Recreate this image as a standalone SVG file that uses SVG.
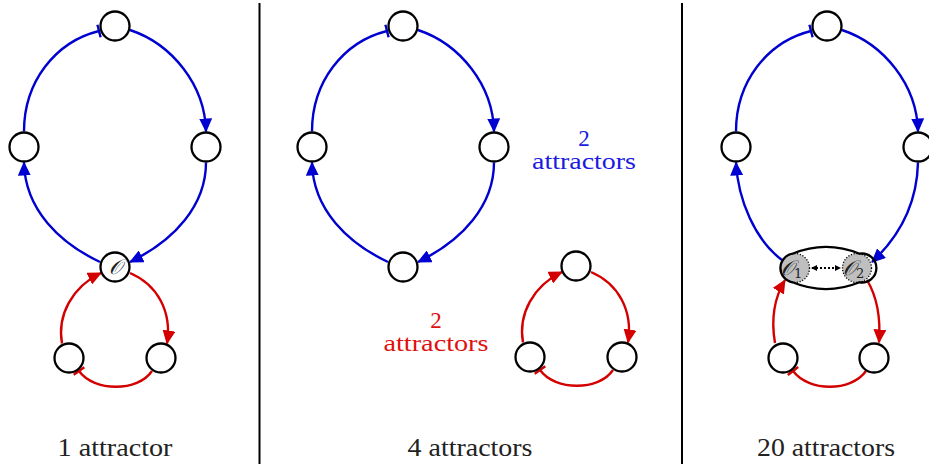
<svg xmlns="http://www.w3.org/2000/svg" width="929" height="466" viewBox="0 0 929 466">
<style>
.node{fill:#fff;stroke:#000;stroke-width:2.3}
.blue{fill:none;stroke:#0000d0;stroke-width:2.4}
.red{fill:none;stroke:#d40000;stroke-width:2.4}
.div{stroke:#000;stroke-width:2}
.lbl{font-size:25px;fill:#222;text-anchor:middle}
.sub{font-size:23px;text-anchor:middle}
.cal{font-style:italic;fill:#222}
</style>
<defs>
<marker id="ab" markerUnits="userSpaceOnUse" viewBox="0 0 14 13" markerWidth="14" markerHeight="13" refX="13" refY="6.5" orient="auto"><path d="M0,0 L14,6.5 L0,13 z" fill="#0000d0"/></marker>
<marker id="ar" markerUnits="userSpaceOnUse" viewBox="0 0 14 13" markerWidth="14" markerHeight="13" refX="13" refY="6.5" orient="auto"><path d="M0,0 L14,6.5 L0,13 z" fill="#d40000"/></marker>
<marker id="tb" markerUnits="userSpaceOnUse" viewBox="0 0 3 14" markerWidth="3" markerHeight="14" refX="1.5" refY="7" orient="auto"><rect x="0.3" y="0.5" width="2.4" height="13" fill="#0000d0"/></marker>
<marker id="tr" markerUnits="userSpaceOnUse" viewBox="0 0 3 14" markerWidth="3" markerHeight="14" refX="1.5" refY="7" orient="auto"><rect x="0.3" y="0.5" width="2.4" height="13" fill="#d40000"/></marker>
<marker id="ak" markerUnits="userSpaceOnUse" viewBox="0 0 6 6" markerWidth="6" markerHeight="6" refX="5" refY="3" orient="auto-start-reverse"><path d="M0,0 L6,3 L0,6 z" fill="#000"/></marker>
</defs>

<line class="div" x1="259.5" y1="3" x2="259.5" y2="464"/>
<line class="div" x1="682" y1="3" x2="682" y2="464"/>

<g id="connectors">
  <g id="p1-blue">
    <path class="blue" d="M24,131.5 C24,82 55,42 99,31" marker-end="url(#tb)"/>
    <path class="blue" d="M130,30 C172,44 205,85 206,131.5" marker-end="url(#ab)"/>
    <path class="blue" d="M206,162.5 C206,205 175,240 130,262" marker-end="url(#ab)"/>
    <path class="blue" d="M100,262 C60,243 25,210 24,162.5" marker-end="url(#ab)"/>
  </g>
  <g id="p1-red">
    <path class="red" d="M62,343.5 C57,315 72,287 101,273" marker-end="url(#ar)"/>
    <path class="red" d="M130,273 C158,285 172,312 167,343.5" marker-end="url(#ar)"/>
    <path class="red" d="M152,371 C138,392 94,392 79,371" marker-end="url(#tr)"/>
  </g>
  <g id="p2-blue" transform="translate(288,0)">
    <path class="blue" d="M24,131.5 C24,82 55,42 99,31" marker-end="url(#tb)"/>
    <path class="blue" d="M130,30 C172,44 205,85 206,131.5" marker-end="url(#ab)"/>
    <path class="blue" d="M206,162.5 C206,205 175,240 130,262" marker-end="url(#ab)"/>
    <path class="blue" d="M100,262 C60,243 25,210 24,162.5" marker-end="url(#ab)"/>
  </g>
  <g id="p2-red" transform="translate(461,-1)">
    <path class="red" d="M62,343.5 C57,315 72,287 101,273" marker-end="url(#ar)"/>
    <path class="red" d="M130,273 C158,285 172,312 167,343.5" marker-end="url(#ar)"/>
    <path class="red" d="M152,371 C138,392 94,392 79,371" marker-end="url(#tr)"/>
  </g>
  <g id="p3-blue">
    <path class="blue" d="M736,131.5 C736,82 767,42 811,31" marker-end="url(#tb)"/>
    <path class="blue" d="M842,30 C884,44 917,85 918,131.5" marker-end="url(#ab)"/>
    <path class="blue" d="M918,162.5 C917,202 900,236 872,262" marker-end="url(#ab)"/>
    <path class="blue" d="M782,260 C755,240 738,200 736,162.5" marker-end="url(#ab)"/>
  </g>
  <g id="p3-red">
    <path class="red" d="M775,343 C771,320 773,300 785,280" marker-end="url(#ar)"/>
    <path class="red" d="M867,280 C876,295 881,315 879,342.5" marker-end="url(#ar)"/>
    <path class="red" d="M866,371 C851,392 809,392 793,371" marker-end="url(#tr)"/>
  </g>
  <line x1="812" y1="268" x2="840" y2="268" stroke="#000" stroke-width="2" stroke-dasharray="2 2" marker-start="url(#ak)" marker-end="url(#ak)"/>
</g>

<g id="p1-top"><circle class="node" cx="115" cy="26" r="14.5"/></g>
<g id="p1-left"><circle class="node" cx="24" cy="147" r="14.5"/></g>
<g id="p1-right"><circle class="node" cx="206" cy="147" r="14.5"/></g>
<g id="p1-O"><circle class="node" cx="115" cy="267" r="14.5"/><text class="cal" x="115" y="274" font-size="21" text-anchor="middle" font-family="'DejaVu Serif', 'Liberation Serif', serif">𝒪</text></g>
<g id="p1-bl"><circle class="node" cx="69" cy="358" r="14.5"/></g>
<g id="p1-br"><circle class="node" cx="161" cy="358" r="14.5"/></g>

<g id="p2-top"><circle class="node" cx="403" cy="26" r="14.5"/></g>
<g id="p2-left"><circle class="node" cx="312" cy="147" r="14.5"/></g>
<g id="p2-right"><circle class="node" cx="494" cy="147" r="14.5"/></g>
<g id="p2-bottom"><circle class="node" cx="403" cy="267" r="14.5"/></g>
<g id="p2-rtop"><circle class="node" cx="576" cy="266" r="14.5"/></g>
<g id="p2-rbl"><circle class="node" cx="530" cy="357" r="14.5"/></g>
<g id="p2-rbr"><circle class="node" cx="622" cy="357" r="14.5"/></g>

<g id="p3-top"><circle class="node" cx="827" cy="26" r="14.5"/></g>
<g id="p3-left"><circle class="node" cx="736" cy="147" r="14.5"/></g>
<g id="p3-right"><circle class="node" cx="918" cy="147" r="14.5"/></g>
<g id="p3-O12">
  <circle cx="795" cy="268" r="14.5" fill="#bfbfbf" stroke="#000" stroke-width="1.3" stroke-dasharray="1.2 1.6"/>
  <circle cx="857" cy="268" r="14.5" fill="#bfbfbf" stroke="#000" stroke-width="1.3" stroke-dasharray="1.2 1.6"/>
  <path d="M792.5,253.7 Q826,240 859.5,253.7 A14.5,14.5 0 1 1 859.5,282.3 Q826,296 792.5,282.3 A14.5,14.5 0 0 1 792.5,253.7 Z" fill="none" stroke="#000" stroke-width="2.3"/>
  <text class="cal" x="781" y="275" font-size="21" font-family="'DejaVu Serif', 'Liberation Serif', serif">𝒪<tspan font-size="13" font-style="normal" dy="3">1</tspan></text>
  <text class="cal" x="843" y="275" font-size="21" font-family="'DejaVu Serif', 'Liberation Serif', serif">𝒪<tspan font-size="13" font-style="normal" dy="3">2</tspan></text>
</g>
<g id="p3-bl"><circle class="node" cx="783" cy="358" r="14.5"/></g>
<g id="p3-br"><circle class="node" cx="874" cy="358" r="14.5"/></g>

<g font-family="'Liberation Serif', 'Times New Roman', Times, serif">
<text class="sub" x="584" y="146" fill="#1a1ae0">2</text>
<text class="sub" x="584" y="169" fill="#1a1ae0" textLength="104" lengthAdjust="spacingAndGlyphs">attractors</text>
<text class="sub" x="436" y="328" fill="#e01010">2</text>
<text class="sub" x="436" y="351" fill="#e01010" textLength="105" lengthAdjust="spacingAndGlyphs">attractors</text>
<text class="lbl" x="115" y="456" textLength="115" lengthAdjust="spacingAndGlyphs">1 attractor</text>
<text class="lbl" x="470" y="456" textLength="125" lengthAdjust="spacingAndGlyphs">4 attractors</text>
<text class="lbl" x="826" y="456" textLength="138" lengthAdjust="spacingAndGlyphs">20 attractors</text>
</g>
</svg>
